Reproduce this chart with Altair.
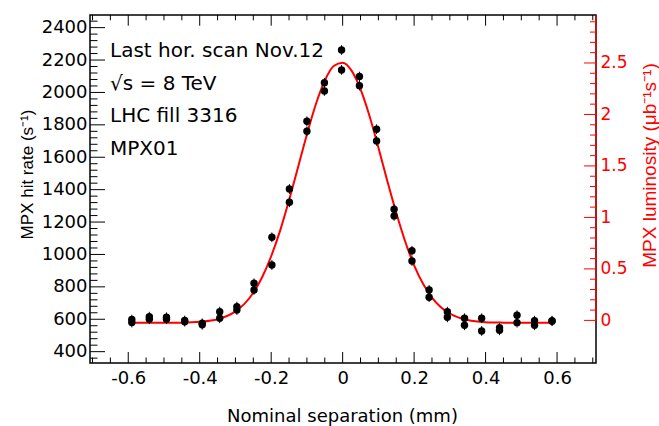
import altair as alt
import pandas as pd

# ---- data ----
sep = [-0.590, -0.541, -0.493, -0.442, -0.393, -0.344, -0.296, -0.248, -0.198, -0.149,
       -0.100, -0.051, -0.003, 0.047, 0.095, 0.144, 0.194, 0.242, 0.293, 0.341,
       0.389, 0.439, 0.488, 0.537, 0.586]
rate_scan1 = [598, 616, 612, 592, 575, 647, 678, 822, 1106, 1404,
              1822, 2060, 2262, 2098, 1773, 1279, 1023, 781, 647, 606,
              606, 548, 625, 591, 591]
rate_scan2 = [580, 600, 600, 585, 566, 606, 657, 781, 935, 1322,
              1760, 2009, 2139, 2042, 1701, 1238, 960, 736, 612, 563,
              528, 532, 579, 563, 588]
rate_err = 30

fit_sep = [-0.59, -0.5, -0.45, -0.4, -0.35, -0.3, -0.275, -0.25, -0.225, -0.2, -0.175,
           -0.15, -0.125, -0.1, -0.075, -0.05, -0.025, 0.0, 0.025, 0.05, 0.075, 0.1,
           0.125, 0.15, 0.175, 0.2, 0.225, 0.25, 0.275, 0.3, 0.35, 0.4, 0.45, 0.5, 0.59]
fit_rate = [578, 578, 579, 584, 600, 649, 695, 764, 861, 989, 1147,
            1334, 1537, 1741, 1927, 2073, 2163, 2184, 2135, 2020, 1856, 1660,
            1454, 1257, 1080, 933, 819, 734, 674, 635, 595, 582, 579, 578, 578]

sep_major = [-0.6, -0.4, -0.2, 0.0, 0.2, 0.4, 0.6]
sep_minor = [-0.7, -0.65, -0.55, -0.5, -0.45, -0.35, -0.3, -0.25, -0.15, -0.1, -0.05,
             0.05, 0.1, 0.15, 0.25, 0.3, 0.35, 0.45, 0.5, 0.55, 0.65, 0.7]
rate_major = [400, 600, 800, 1000, 1200, 1400, 1600, 1800, 2000, 2200, 2400]
rate_minor = [v for v in range(360, 2480, 40) if v % 200 != 0]
lumi_major = [0, 0.5, 1, 1.5, 2, 2.5]
lumi_minor = [0.1, 0.2, 0.3, 0.4, 0.6, 0.7, 0.8, 0.9, 1.1, 1.2, 1.3, 1.4, 1.6, 1.7,
              1.8, 1.9, 2.1, 2.2, 2.3, 2.4, 2.6, 2.7, 2.8, 2.9]
notes = ["Last hor. scan Nov.12", "√s = 8 TeV", "LHC fill 3316", "MPX01"]

# ---- layout ----
W, H = 506, 348
X_DOM = [-0.707, 0.709]
Y_DOM = [330, 2478]
L_DOM = [-0.414, 2.966]
TICKFONT = "DejaVu Sans"

xs = alt.Scale(domain=X_DOM, nice=False, zero=False)
ys = alt.Scale(domain=Y_DOM, nice=False, zero=False)
ls = alt.Scale(domain=L_DOM, nice=False, zero=False)

pts = pd.DataFrame({"sep": sep + sep, "rate": rate_scan1 + rate_scan2})
pts["lo"] = pts["rate"] - rate_err
pts["hi"] = pts["rate"] + rate_err
fit = pd.DataFrame({"sep": fit_sep, "rate": fit_rate})

x_axis = alt.Axis(values=sep_major, ticks=False, domain=False, grid=False,
                  labelExpr="datum.value == 0 ? '0' : (datum.value < 0 ? '-' : '') + format(abs(datum.value), '.1f')",
                  labelFont=TICKFONT, labelFontSize=18, labelColor="black", labelPadding=6,
                  labelOverlap=False, labelFlush=False,
                  title="Nominal separation (mm)", titleFont=TICKFONT, titleFontSize=18,
                  titleFontWeight="normal", titleColor="black", titleX=252, titleY=58,
                  titleAlign="center", titleBaseline="alphabetic")
y_axis = alt.Axis(values=rate_major, format="d", ticks=False, domain=False, grid=False,
                  labelFont=TICKFONT, labelFontSize=18, labelColor="black", labelPadding=3,
                  labelOverlap=False, labelFlush=False,
                  title="MPX hit rate (s⁻¹)", titleFont="Liberation Sans", titleFontSize=17,
                  titleFontWeight="normal", titleColor="black", titleAngle=270,
                  titleX=-58, titleY=159, titleAlign="center", titleBaseline="alphabetic")
l_axis = alt.Axis(orient="right", values=lumi_major, format="~g", ticks=False, domain=False,
                  grid=False, labelFont=TICKFONT, labelFontSize=17, labelColor="red",
                  labelPadding=4, labelOverlap=False, labelFlush=False,
                  title="MPX luminosity (μb⁻¹s⁻¹)", titleFont="Liberation Sans", titleFontSize=19,
                  titleFontWeight="normal", titleColor="red", titleAngle=270,
                  titleX=59, titleY=150, titleAlign="center", titleBaseline="alphabetic")

errbars = alt.Chart(pts).mark_rule(color="black", strokeWidth=1).encode(
    x=alt.X("sep:Q", scale=xs, axis=x_axis),
    y=alt.Y("lo:Q", scale=ys, axis=y_axis), y2="hi:Q")
points = alt.Chart(pts).mark_circle(size=55, color="black", opacity=1).encode(
    x=alt.X("sep:Q", scale=xs, axis=x_axis),
    y=alt.Y("rate:Q", scale=ys, axis=y_axis))
fitline = alt.Chart(fit).mark_line(color="red", strokeWidth=2, interpolate="monotone").encode(
    x=alt.X("sep:Q", scale=xs, axis=x_axis),
    y=alt.Y("rate:Q", scale=ys, axis=y_axis))

def yticks(vals, length):
    return alt.Chart(pd.DataFrame({"v": vals})).mark_rule(color="black", strokeWidth=1).encode(
        y=alt.Y("v:Q", scale=ys, axis=y_axis), x=alt.value(0), x2=alt.value(length))

def xticks(vals, length, top=False):
    y0, y1 = (0, length) if top else (H, H - length)
    return alt.Chart(pd.DataFrame({"v": vals})).mark_rule(color="black", strokeWidth=1).encode(
        x=alt.X("v:Q", scale=xs, axis=x_axis), y=alt.value(y0), y2=alt.value(y1))

def lticks(vals, length):
    return alt.Chart(pd.DataFrame({"v": vals})).mark_rule(color="red", strokeWidth=1).encode(
        y=alt.Y("v:Q", scale=ls, axis=l_axis), x=alt.value(W), x2=alt.value(W - length))

text = alt.Chart(pd.DataFrame({"a": [0]})).mark_text(
    align="left", baseline="alphabetic", font=TICKFONT, fontSize=20, lineHeight=32.5,
    color="black").encode(x=alt.value(20), y=alt.value(42), text=alt.value(notes))

rate_group = alt.layer(
    yticks(rate_minor, 7.5), yticks(rate_major, 15),
    xticks(sep_minor, 5.5), xticks(sep_major, 11),
    xticks(sep_minor, 5.3, top=True), xticks(sep_major, 10.7, top=True),
    fitline, errbars, points, text)

lumi_line = alt.Chart(pd.DataFrame({"v": [0]})).mark_rule(color="red", strokeWidth=1.2).encode(
    y=alt.Y("v:Q", scale=ls, axis=l_axis), y2=alt.value(0), x=alt.value(W))
lumi_group = alt.layer(lticks(lumi_major, 12), lticks(lumi_minor, 6), lumi_line)

chart = alt.layer(rate_group, lumi_group).resolve_scale(y="independent").properties(
    width=W, height=H,
    autosize=alt.AutoSizeParams(type="none"),
    padding={"left": 90, "top": 15, "right": 63, "bottom": 63},
    background="white",
).configure_view(stroke="black", strokeWidth=1.5)

chart.save("out.html", embed_options={"renderer": "svg", "actions": False})
